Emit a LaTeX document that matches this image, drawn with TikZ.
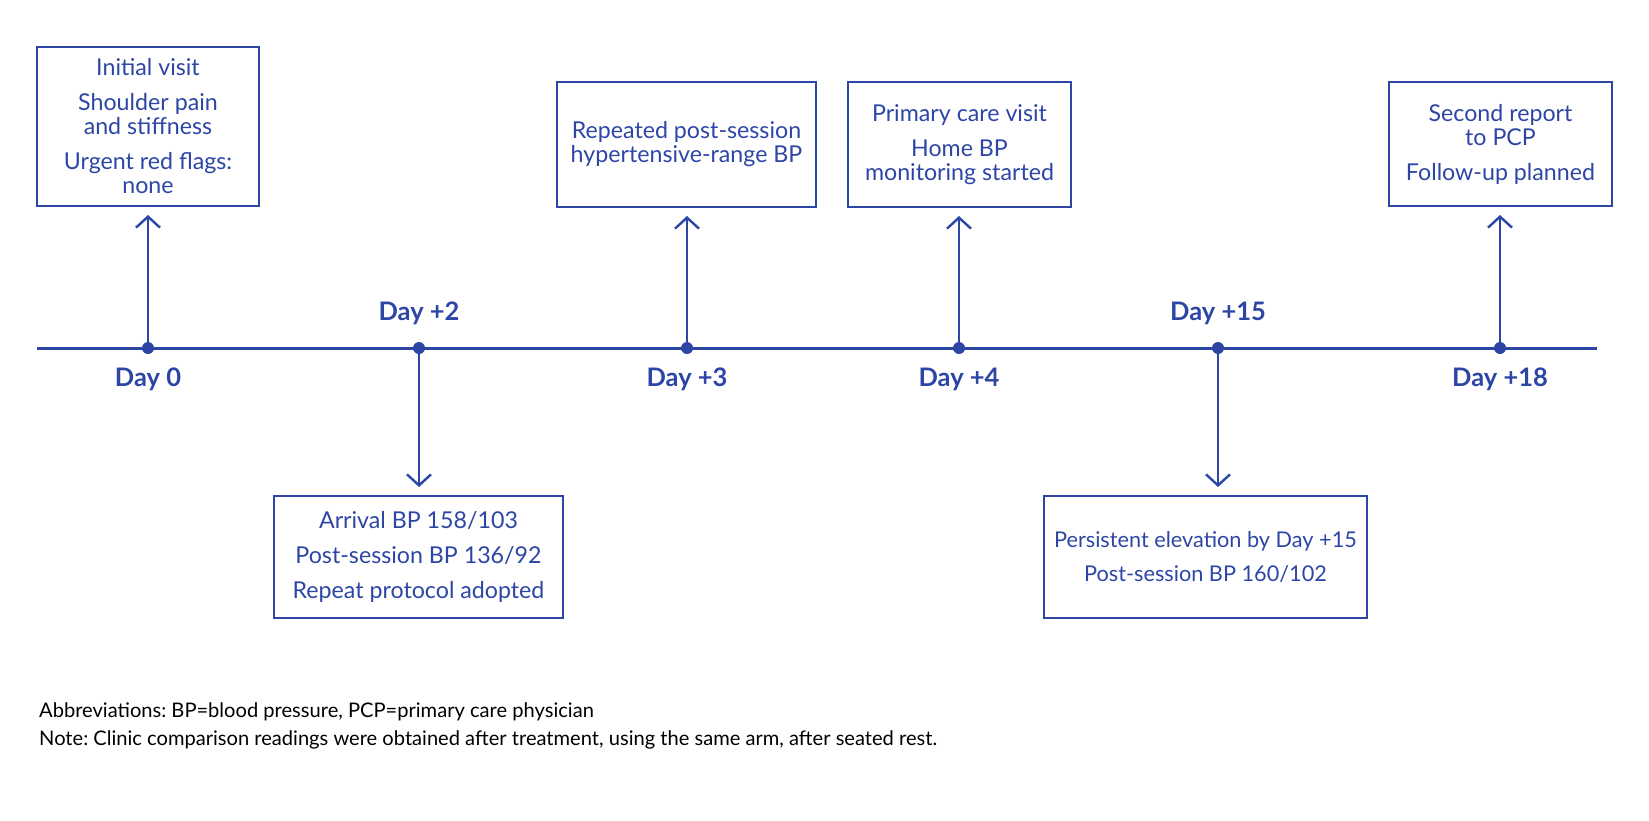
\documentclass[tikz,border=0pt]{standalone}
\usepackage{fontspec}
\setmainfont{Lato}
\usetikzlibrary{arrows.meta}
\definecolor{tl}{RGB}{45,70,165}
\frenchspacing
\begin{document}
\begin{tikzpicture}[x=1pt,y=-1pt,
  evbox/.style={draw=tl, line width=1.4pt, text=tl, align=center, inner sep=0pt, outer sep=0pt, font=\fontsize{23.2}{24}\selectfont},
  daylbl/.style={text=tl, inner sep=0pt, font=\fontsize{25.5}{28}\selectfont\bfseries},
  conn/.style={draw=tl, line width=2.4pt, shorten >=9pt, -{Straight Barb[length=11pt,width=24pt]}},
  dot/.style={circle, fill=tl, inner sep=0pt, minimum size=12pt},
  note/.style={anchor=base west, inner sep=0pt, text=black, font=\fontsize{20.1}{22}\selectfont}]
\useasboundingbox (0,0) rectangle (1649,820);
% axis
\coordinate (axL) at (37,348);
\coordinate (axR) at (1597,348);
\draw[tl, line width=3pt] (axL) -- (axR);
% boxes
\node[evbox, minimum width=222pt, minimum height=159pt] (b1) at (148,126.5)
  {Initial visit\\[11pt]Shoulder pain\\and stiffness\\[11pt]Urgent red flags:\\none};
\node[evbox, minimum width=289pt, minimum height=122pt] (b2) at (418.5,557)
  {Arrival BP 158/103\\[11pt]Post-session BP 136/92\\[11pt]Repeat protocol adopted};
\node[evbox, minimum width=259pt, minimum height=125pt] (b3) at (686.5,144.5)
  {Repeated post-session\\hypertensive-range BP};
\node[evbox, minimum width=223pt, minimum height=125pt] (b4) at (959.5,144.5)
  {Primary care visit\\[11pt]Home BP\\monitoring started};
\node[evbox, minimum width=323pt, minimum height=122pt, font=\fontsize{21.7}{24}\selectfont] (b5) at (1205.5,557)
  {Persistent elevation by Day +15\\[10pt]Post-session BP 160/102};
\node[evbox, minimum width=223pt, minimum height=124pt] (b6) at (1500.5,144)
  {Second report\\to PCP\\[11pt]Follow-up planned};
% dots
\node[dot] (d0) at (148,348) {};
\node[dot] (d2) at (419,348) {};
\node[dot] (d3) at (687,348) {};
\node[dot] (d4) at (959,348) {};
\node[dot] (d15) at (1218,348) {};
\node[dot] (d18) at (1500,348) {};
% connectors
\draw[conn] (d0.center) -- (d0.center |- b1.south);
\draw[conn] (d2.center) -- (d2.center |- b2.north);
\draw[conn] (d3.center) -- (d3.center |- b3.south);
\draw[conn] (d4.center) -- (d4.center |- b4.south);
\draw[conn] (d15.center) -- (d15.center |- b5.north);
\draw[conn] (d18.center) -- (d18.center |- b6.south);
% day labels
\node[daylbl] (l0) at (148,379) {Day 0};
\node[daylbl] (l2) at (419,313) {Day +2};
\node[daylbl] (l3) at (687,379) {Day +3};
\node[daylbl] (l4) at (959,379) {Day +4};
\node[daylbl] (l15) at (1218,313) {Day +15};
\node[daylbl] (l18) at (1500,379) {Day +18};
% notes
\node[note] (n1) at (39,717) {Abbreviations: BP=blood pressure, PCP=primary care physician};
\node[note] (n2) at (39,745) {Note: Clinic comparison readings were obtained after treatment, using the same arm, after seated rest.};
\end{tikzpicture}
\end{document}
